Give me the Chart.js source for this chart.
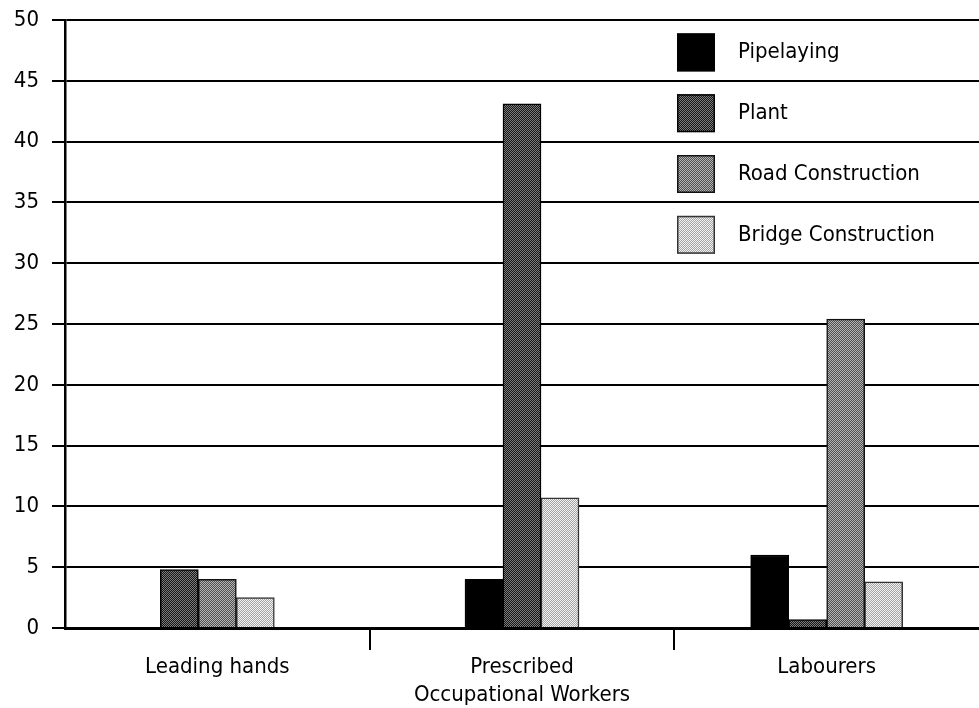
<!DOCTYPE html>
<html>
<head>
<meta charset="utf-8">
<script src="https://cdn.jsdelivr.net/npm/chart.js@4"></script>
<style>
  html, body { margin: 0; padding: 0; background: #fff; }
  #wrap { width: 979px; height: 708px; position: relative; }
</style>
</head>
<body>
<div id="wrap"><canvas id="chart"></canvas></div>
<script>
// Workforce by occupation group and trade
const categories = ['Leading hands', ['Prescribed', 'Occupational Workers'], 'Labourers'];
const seriesNames = ['Pipelaying', 'Plant', 'Road Construction', 'Bridge Construction'];
const pipelaying = [null, 4.0, 6.0];
const plant = [4.8, 43.1, 0.7];
const roadConstruction = [4.0, null, 25.4];
const bridgeConstruction = [2.5, 10.7, 3.8];
const yTicks = [0, 5, 10, 15, 20, 25, 30, 35, 40, 45, 50];

const FONT = "'Liberation Sans Narrow', 'DejaVu Sans Condensed', 'Roboto Condensed', Arial, sans-serif";

// Halftone-like 2x2 checker fills
function checker(a, b) {
  const c = document.createElement('canvas');
  c.width = 2; c.height = 2;
  const g = c.getContext('2d');
  g.fillStyle = a; g.fillRect(0, 0, 2, 2);
  g.fillStyle = b; g.fillRect(0, 0, 1, 1); g.fillRect(1, 1, 1, 1);
  return g.createPattern(c, 'repeat');
}

const fills = [
  '#000000',
  checker('#161616', '#7c7c7c'),
  checker('#505050', '#b4b4b4'),
  checker('#a4a4a4', '#f2f2f2')
];
const borders = ['#000000', '#000000', '#111111', '#333333'];
const seriesData = [pipelaying, plant, roadConstruction, bridgeConstruction];

// Legend drawn inside the plot, one row per 5-unit band at the top right
const legendInPlot = {
  id: 'legendInPlot',
  afterDatasetsDraw(chart) {
    const { ctx, chartArea, scales } = chart;
    const centers = [47.5, 42.5, 37.5, 32.5];
    ctx.save();
    ctx.font = '22px ' + FONT;
    ctx.textBaseline = 'middle';
    ctx.textAlign = 'left';
    seriesNames.forEach((name, i) => {
      const cy = scales.y.getPixelForValue(centers[i]) + 2;
      const bx = chartArea.right - 302;
      ctx.fillStyle = fills[i];
      ctx.fillRect(bx, cy - 19, 38, 38);
      ctx.lineWidth = 1.5;
      ctx.strokeStyle = borders[i];
      ctx.strokeRect(bx + 0.75, cy - 18.25, 36.5, 36.5);
      ctx.fillStyle = '#000';
      ctx.fillText(name, bx + 61, cy);
    });
    ctx.restore();
  }
};

new Chart(document.getElementById('chart'), {
  type: 'bar',
  data: {
    labels: categories,
    datasets: seriesNames.map((name, i) => ({
      label: name,
      data: seriesData[i],
      backgroundColor: fills[i],
      borderColor: borders[i],
      borderWidth: 1.5,
      borderSkipped: 'start'
    }))
  },
  options: {
    responsive: true,
    maintainAspectRatio: false,
    animation: false,
    skipNull: true,
    barThickness: 38,
    layout: { padding: 0 },
    plugins: {
      legend: { display: false },
      tooltip: { enabled: false }
    },
    scales: {
      x: {
        offset: true,
        afterFit(scale) { scale.height = 80; },
        border: { display: true, color: '#000', width: 3 },
        grid: {
          offset: true,
          drawOnChartArea: false,
          drawTicks: true,
          tickLength: 22,
          lineWidth: 2,
          color: (c) => (c.type === 'tick' && c.index > 0) ? '#000' : 'rgba(0,0,0,0)'
        },
        ticks: {
          color: '#000',
          padding: 3,
          maxRotation: 0,
          font: { family: FONT, size: 22, lineHeight: 1.27 }
        }
      },
      y: {
        min: 0,
        max: 50,
        afterFit(scale) {
          scale.width = 65;
          scale.paddingTop = 20;
          scale.paddingBottom = 0;
        },
        afterBuildTicks(scale) { scale.ticks = yTicks.map(v => ({ value: v })); },
        border: { display: true, color: '#000', width: 2.5 },
        grid: {
          color: '#000',
          lineWidth: 2,
          drawTicks: true,
          tickLength: 13
        },
        ticks: {
          color: '#000',
          padding: 13,
          font: { family: FONT, size: 22 }
        }
      }
    }
  },
  plugins: [legendInPlot]
});
</script>
</body>
</html>
